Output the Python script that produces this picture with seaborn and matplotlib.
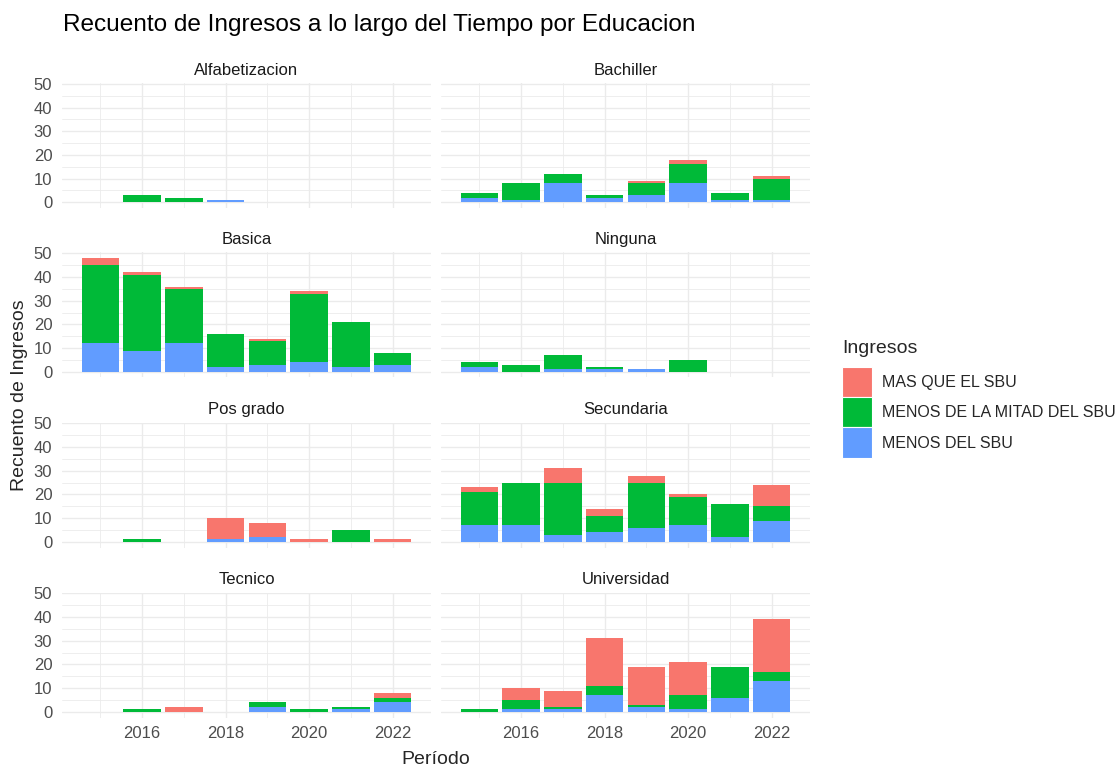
import pandas as pd
import matplotlib
matplotlib.use('Agg')
import matplotlib.pyplot as plt
import seaborn as sns
from matplotlib.patches import Patch

# Datos: conteos por año y nivel de ingresos
anios = [2015, 2016, 2017, 2018, 2019, 2020, 2021, 2022]
ingresos = ['MAS QUE EL SBU', 'MENOS DE LA MITAD DEL SBU', 'MENOS DEL SBU']
colores = ['#F8766D', '#00BA38', '#619CFF']
educacion = ['Alfabetizacion', 'Bachiller', 'Basica', 'Ninguna',
             'Pos grado', 'Secundaria', 'Tecnico', 'Universidad']

# orden de cada lista: MAS QUE EL SBU, MENOS DE LA MITAD, MENOS DEL SBU
alfabetizacion_mas = [0, 0, 0, 0, 0, 0, 0, 0]
alfabetizacion_mitad = [0, 3, 2, 0, 0, 0, 0, 0]
alfabetizacion_menos = [0, 0, 0, 1, 0, 0, 0, 0]

bachiller_mas = [0, 0, 0, 0, 1, 2, 0, 1]
bachiller_mitad = [2, 7, 4, 1, 5, 8, 3, 9]
bachiller_menos = [2, 1, 8, 2, 3, 8, 1, 1]

basica_mas = [3, 1, 1, 0, 1, 1, 0, 0]
basica_mitad = [33, 32, 23, 14, 10, 29, 19, 5]
basica_menos = [12, 9, 12, 2, 3, 4, 2, 3]

ninguna_mas = [0, 0, 0, 0, 0, 0, 0, 0]
ninguna_mitad = [2, 3, 6, 1, 0, 5, 0, 0]
ninguna_menos = [2, 0, 1, 1, 1, 0, 0, 0]

posgrado_mas = [0, 0, 0, 9, 6, 1, 0, 1]
posgrado_mitad = [0, 1, 0, 0, 0, 0, 5, 0]
posgrado_menos = [0, 0, 0, 1, 2, 0, 0, 0]

secundaria_mas = [2, 0, 6, 3, 3, 1, 0, 9]
secundaria_mitad = [14, 18, 22, 7, 19, 12, 14, 6]
secundaria_menos = [7, 7, 3, 4, 6, 7, 2, 9]

tecnico_mas = [0, 0, 2, 0, 0, 0, 0, 2]
tecnico_mitad = [0, 1, 0, 0, 2, 1, 1, 2]
tecnico_menos = [0, 0, 0, 0, 2, 0, 1, 4]

universidad_mas = [0, 5, 7, 20, 16, 14, 0, 22]
universidad_mitad = [1, 4, 1, 4, 1, 6, 13, 4]
universidad_menos = [0, 1, 1, 7, 2, 1, 6, 13]

conteos = {
    'Alfabetizacion': [alfabetizacion_mas, alfabetizacion_mitad, alfabetizacion_menos],
    'Bachiller': [bachiller_mas, bachiller_mitad, bachiller_menos],
    'Basica': [basica_mas, basica_mitad, basica_menos],
    'Ninguna': [ninguna_mas, ninguna_mitad, ninguna_menos],
    'Pos grado': [posgrado_mas, posgrado_mitad, posgrado_menos],
    'Secundaria': [secundaria_mas, secundaria_mitad, secundaria_menos],
    'Tecnico': [tecnico_mas, tecnico_mitad, tecnico_menos],
    'Universidad': [universidad_mas, universidad_mitad, universidad_menos],
}

filas = []
for edu in educacion:
    for ing, valores in zip(ingresos, conteos[edu]):
        for a, v in zip(anios, valores):
            filas.append({'Educacion': edu, 'Periodo': a, 'Ingresos': ing, 'Conteo': v})
df = pd.DataFrame(filas)

sns.set_style('white')
plt.rcParams['font.family'] = ['Liberation Sans', 'DejaVu Sans']

W, H = 1119, 767
fig = plt.figure(figsize=(W / 100, H / 100), dpi=100)

lefts = [62, 441]
tops = [83, 252.5, 422.5, 592.5]
ancho, alto = 369, 125

for i, edu in enumerate(educacion):
    fila, col = divmod(i, 2)
    ax = fig.add_axes([lefts[col] / W, 1 - (tops[fila] + alto) / H, ancho / W, alto / H])
    ax.set_axisbelow(True)
    sns.histplot(data=df[df['Educacion'] == edu], x='Periodo', weights='Conteo',
                 hue='Ingresos', hue_order=ingresos, palette=colores,
                 multiple='stack', discrete=True, shrink=0.9, alpha=1,
                 linewidth=0, legend=False, ax=ax)
    ax.set_xlim(2014.08, 2022.92)
    ax.set_ylim(-2.4, 50.4)
    ax.set_xticks([2016, 2018, 2020, 2022])
    ax.set_xticks([2015, 2017, 2019, 2021], minor=True)
    ax.set_yticks([0, 10, 20, 30, 40, 50])
    ax.set_yticks([5, 15, 25, 35, 45], minor=True)
    ax.grid(which='major', color='#EBEBEB', linewidth=1.0)
    ax.grid(which='minor', color='#EBEBEB', linewidth=0.6)
    for s in ax.spines.values():
        s.set_visible(False)
    ax.tick_params(which='both', length=0, labelsize=12, labelcolor='#4D4D4D')
    ax.tick_params(axis='y', pad=7)
    ax.tick_params(axis='x', pad=6)
    if col == 1:
        ax.set_yticklabels([])
    if fila < 3:
        ax.set_xticklabels([])
    ax.set_xlabel('')
    ax.set_ylabel('')
    ax.set_title(edu, fontsize=12, color='#1A1A1A', pad=6)

fig.text(63 / W, 1 - 25 / H, 'Recuento de Ingresos a lo largo del Tiempo por Educacion',
         fontsize=17.6, ha='left', va='center', color='black')
fig.text(20 / W, 1 - 395 / H, 'Recuento de Ingresos', rotation=90, fontsize=14,
         ha='center', va='center')
fig.text(436 / W, 1 - 759 / H, 'Período', fontsize=14, ha='center', va='center')

handles = [Patch(facecolor=c, edgecolor='white', linewidth=0.8) for c in colores]
leg = fig.legend(handles, ingresos, title='Ingresos', loc='upper left',
                 bbox_to_anchor=(842 / W, 1 - 340 / H), frameon=False,
                 fontsize=11.5, title_fontsize=14, handlelength=1.9, handleheight=2.55,
                 labelspacing=0.0, handletextpad=0.6, borderpad=0, borderaxespad=0,
                 alignment='left')
leg._legend_box.sep = 7

fig.savefig('out.png', dpi=100)
